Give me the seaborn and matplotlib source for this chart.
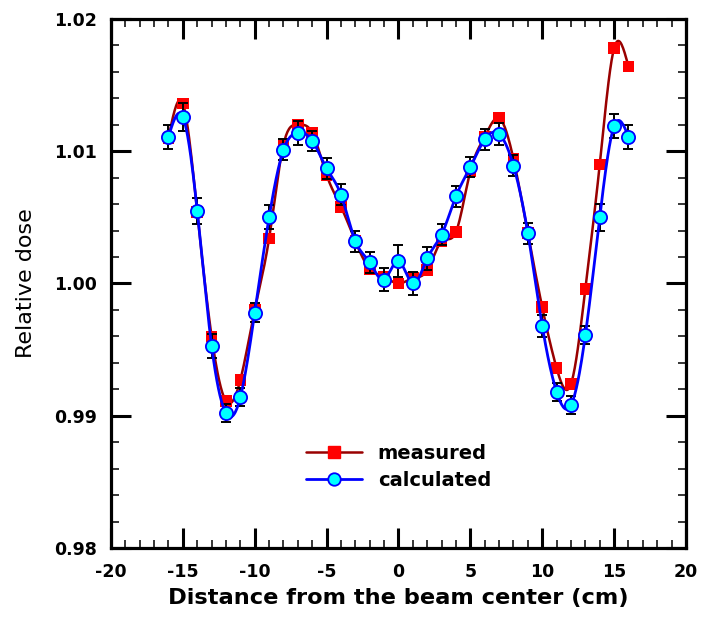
import numpy as np
import pandas as pd
import matplotlib
matplotlib.use("Agg")
import matplotlib.pyplot as plt
from matplotlib.lines import Line2D
from matplotlib.ticker import MultipleLocator, FormatStrFormatter
import seaborn as sns

# ---- data ----
positions = [-16, -15, -14, -13, -12, -11, -10, -9, -8, -7, -6, -5, -4, -3, -2, -1,
             0, 1, 2, 3, 4, 5, 6, 7, 8, 9, 10, 11, 12, 13, 14, 15, 16]
measured = [1.0110, 1.0136, 1.0054, 0.9960, 0.9911, 0.9927, 0.9980, 1.0034, 1.0105,
            1.0120, 1.0114, 1.0082, 1.0058, 1.0032, 1.0011, 1.0005, 1.0000, 1.0004,
            1.0010, 1.0032, 1.0039, 1.0085, 1.0111, 1.0125, 1.0094, 1.0038, 0.9982,
            0.9936, 0.9924, 0.9996, 1.0090, 1.0178, 1.0164]
calculated = [1.0111, 1.0126, 1.0055, 0.9953, 0.9902, 0.9914, 0.9978, 1.0050, 1.0101,
              1.0114, 1.0108, 1.0087, 1.0067, 1.0032, 1.0016, 1.0003, 1.0017, 1.0000,
              1.0019, 1.0037, 1.0066, 1.0088, 1.0109, 1.0113, 1.0089, 1.0038, 0.9968,
              0.9918, 0.9908, 0.9961, 1.0050, 1.0119, 1.0111]
calc_err = [0.0009, 0.00104, 0.0010, 0.0009, 0.0007, 0.0007, 0.0007, 0.0009, 0.0008,
            0.0009, 0.00075, 0.0008, 0.0008, 0.0008, 0.0008, 0.0009, 0.0012, 0.0009,
            0.00085, 0.0008, 0.0008, 0.00075, 0.0008, 0.0008, 0.0008, 0.0008, 0.00085,
            0.0007, 0.0007, 0.0007, 0.0010, 0.0009, 0.0009]
series_names = ["measured", "calculated"]
x_label = "Distance from the beam center (cm)"
y_label = "Relative dose"


def natural_spline(x, y, xs):
    """Smooth rendering curve through the data points (natural cubic spline)."""
    x = np.asarray(x, float)
    y = np.asarray(y, float)
    n = len(x)
    h = np.diff(x)
    A = np.zeros((n, n))
    b = np.zeros(n)
    A[0, 0] = A[-1, -1] = 1.0
    for i in range(1, n - 1):
        A[i, i - 1] = h[i - 1]
        A[i, i] = 2 * (h[i - 1] + h[i])
        A[i, i + 1] = h[i]
        b[i] = 3 * ((y[i + 1] - y[i]) / h[i] - (y[i] - y[i - 1]) / h[i - 1])
    c = np.linalg.solve(A, b)
    bc = (y[1:] - y[:-1]) / h - h * (2 * c[:-1] + c[1:]) / 3
    d = (c[1:] - c[:-1]) / (3 * h)
    idx = np.clip(np.searchsorted(x, xs) - 1, 0, n - 2)
    dx = xs - x[idx]
    return y[idx] + bc[idx] * dx + c[idx] * dx ** 2 + d[idx] * dx ** 3


sns.set_theme(style="white")
plt.rcParams["font.family"] = ["DejaVu Sans"]
plt.rcParams["text.color"] = "black"
plt.rcParams["axes.labelcolor"] = "black"

df = pd.DataFrame({"x": positions, "measured": measured,
                   "calculated": calculated, "err": calc_err})
xs = np.linspace(min(positions), max(positions), 600)
smooth = pd.DataFrame({"x": xs,
                       "measured": natural_spline(positions, measured, xs),
                       "calculated": natural_spline(positions, calculated, xs)})

fig = plt.figure(figsize=(7.01, 6.18), dpi=100)
ax = fig.add_axes([0.1583, 0.1133, 0.8203, 0.856])

red_line = "#990000"
red_mark = "#ff0000"
blue_line = "#0000ff"
cyan = "#00ffff"

sns.lineplot(data=smooth, x="x", y="measured", ax=ax, color=red_line, lw=1.8,
             zorder=2, legend=False)
sns.scatterplot(data=df, x="x", y="measured", ax=ax, marker="s", s=70,
                color=red_mark, edgecolor="none", zorder=3, legend=False)
ax.errorbar(df["x"], df["calculated"], yerr=df["err"], fmt="none",
            ecolor="black", elinewidth=1.4, capsize=3.5, capthick=1.4, zorder=4)
sns.lineplot(data=smooth, x="x", y="calculated", ax=ax, color=blue_line, lw=2.0,
             zorder=5, legend=False)
sns.scatterplot(data=df, x="x", y="calculated", ax=ax, marker="o", s=90,
                color=cyan, edgecolor=blue_line, linewidth=1.3, zorder=6,
                legend=False)

ax.set_xlim(-20, 20)
ax.set_ylim(0.98, 1.02)
ax.xaxis.set_major_locator(MultipleLocator(5))
ax.xaxis.set_minor_locator(MultipleLocator(1))
ax.yaxis.set_major_locator(MultipleLocator(0.01))
ax.yaxis.set_minor_locator(MultipleLocator(0.002))
ax.yaxis.set_major_formatter(FormatStrFormatter("%.2f"))
ax.xaxis.set_major_formatter(FormatStrFormatter("%d"))

ax.tick_params(which="both", direction="in", top=True, right=True,
               bottom=True, left=True, colors="black", labelcolor="black")
ax.tick_params(which="major", length=14.5, width=2.2, labelsize=12.5)
ax.tick_params(axis="x", which="major", pad=10.5)
ax.tick_params(axis="y", which="major", pad=10)
ax.tick_params(which="minor", length=5.8, width=1.1)
for lab in ax.get_xticklabels() + ax.get_yticklabels():
    lab.set_fontweight("bold")

for sp in ax.spines.values():
    sp.set_visible(True)
    sp.set_color("black")
    sp.set_linewidth(2.3)

ax.set_xlabel(x_label, fontsize=16.2, fontweight="bold", labelpad=5, color="black")
ax.set_ylabel(y_label, fontsize=16, labelpad=13, color="black")
ax.grid(False)

handles = [
    Line2D([0], [0], color=red_line, lw=1.8, marker="s", markersize=8,
           markerfacecolor=red_mark, markeredgecolor=red_mark),
    Line2D([0], [0], color=blue_line, lw=2.0, marker="o", markersize=9,
           markerfacecolor=cyan, markeredgecolor=blue_line, markeredgewidth=1.3),
]
leg = ax.legend(handles, series_names, loc="center", bbox_to_anchor=(0.5, 0.153),
                frameon=False, handlelength=2.9, handletextpad=0.8,
                labelspacing=0.4, prop={"weight": "bold", "size": 14})
for t in leg.get_texts():
    t.set_color("black")

fig.savefig("out.png", dpi=100)
